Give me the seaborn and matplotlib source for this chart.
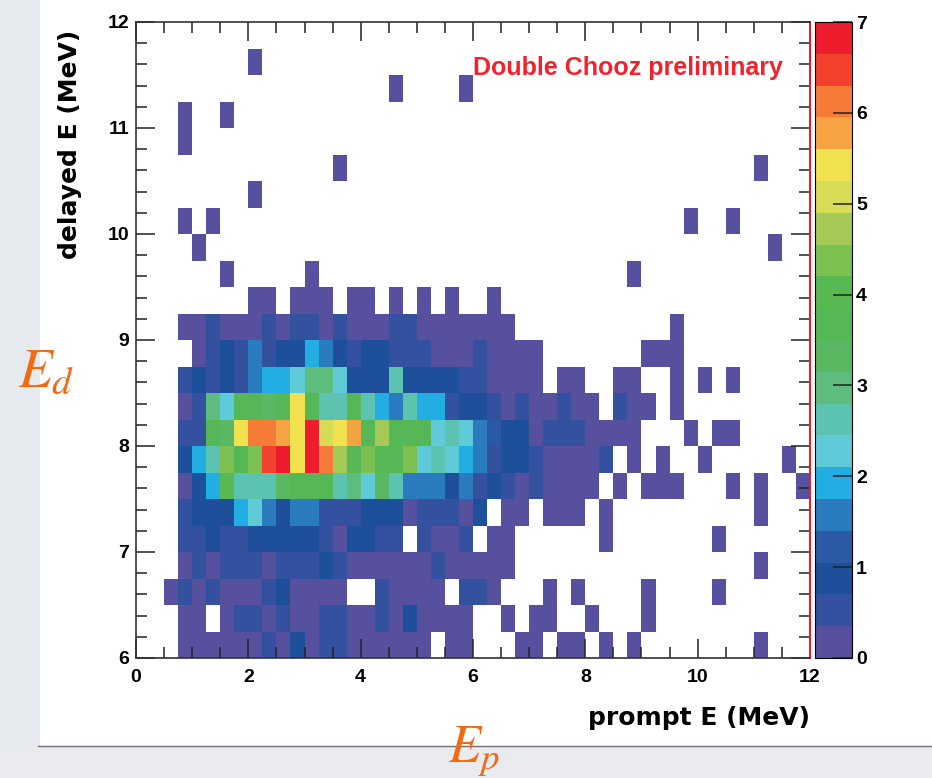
import numpy as np
import matplotlib
matplotlib.use("Agg")
import matplotlib.pyplot as plt
from matplotlib.colors import ListedColormap
from matplotlib.patches import Rectangle
from matplotlib.lines import Line2D
from matplotlib.ticker import MultipleLocator
from matplotlib.font_manager import FontProperties
import seaborn as sns

plt.rcParams["mathtext.fontset"] = "stix"

# Binning of the prompt / delayed energy histogram (MeV)
prompt_edges = np.linspace(0.0, 12.0, 49)
delayed_edges = np.linspace(6.0, 12.0, 25)

# Cell contents: one character per 0.25 MeV prompt bin (groups of 8 bins),
# delayed rows listed from 12 MeV down to 6 MeV.
# '.' = empty, '1'..'9' and 'a'..'k' = colour band 1..20 of the z scale.
rows = [
    "........ ........ ........ ........ ........ ........",  # 11.75-12.00
    "........ 1....... ........ ........ ........ ........",  # 11.50-11.75
    "........ ........ ..1....1 ........ ........ ........",  # 11.25-11.50
    "...1..1. ........ ........ ........ ........ ........",  # 11.00-11.25
    "...1.... ........ ........ ........ ........ ........",  # 10.75-11.00
    "........ ......1. ........ ........ ........ ....1...",  # 10.50-10.75
    "........ 1....... ........ ........ ........ ........",  # 10.25-10.50
    "...1.1.. ........ ........ ........ .......1 ..1.....",  # 10.00-10.25
    "....1... ........ ........ ........ ........ .....1..",  # 9.75-10.00
    "......1. ....1... ........ ........ ...1.... ........",  # 9.50-9.75
    "........ 11.111.1 1.1.1.1. .1...... ........ ........",  # 9.25-9.50
    "...11211 12122121 11221111 111..... ......1. ........",  # 9.00-9.25
    "....1232 52336532 33222111 21111... ....111. ........",  # 8.75-9.00
    "...23232 56679973 33833332 21111.11 ..11..1. 1.1.....",  # 8.50-8.75
    "...1297b babgb88b 86586623 32121121 1.211.1. ........",  # 8.25-8.50
    "...22bag iihgkfgh bebbb787 54331222 1111...1 .11.....",  # 8.00-8.25
    "...368db djkgkieb dbbd7876 52332111 12.1.1.. 1.....1.",  # 7.75-8.00
    "...136c8 88abbb89 7a855535 23212111 1.1.111. ..1.1..1",  # 7.50-7.75
    "...23336 75355222 33312221 3.11.111 .1...... ....1...",  # 7.25-7.50
    "...22322 33333213 322.2112 .11..... .1...... .1......",  # 7.00-7.25
    "...12122 21222321 11111211 111..... ........ ....1...",  # 6.75-7.00
    "..121211 1231111. .21111.2 21...1.1 ....1... .1......",  # 6.50-6.75
    "...11.12 21211221 12131111 ..1.11.. 1...1... ........",  # 6.25-6.50
    "...11111 12131221 11111.11 ...11.11 .1.1.... ....1...",  # 6.00-6.25
]

# 20-step rainbow palette of the z axis (0 .. 7)
palette = [
    "#56509f", "#33519f", "#1d4f9b", "#2b59a4", "#2a7cbf",
    "#22aee2", "#5fcbd9", "#5cc3b1", "#5dbc7e", "#5ab862",
    "#56b756", "#58b852", "#7cc052", "#a4c956", "#d6dc55",
    "#f2e14e", "#f6a343", "#f67b36", "#f4412e", "#ee1d2e",
]
z_max = 7.0
band = z_max / len(palette)
band_codes = "123456789abcdefghijk"

# Turn the table into weighted entries at bin centres
x_centres = 0.5 * (prompt_edges[:-1] + prompt_edges[1:])
y_centres = 0.5 * (delayed_edges[:-1] + delayed_edges[1:])
px, py, w = [], [], []
for r, line in enumerate(rows):
    cells = line.replace(" ", "")
    yc = y_centres[len(rows) - 1 - r]
    for c, ch in enumerate(cells):
        if ch != ".":
            level = band_codes.index(ch) + 1
            px.append(x_centres[c])
            py.append(yc)
            w.append((level - 0.5) * band)

W, H = 932, 778
fig = plt.figure(figsize=(W / 100, H / 100), dpi=100)

# slide backdrop around the canvas
fig.patches.append(Rectangle((0, 0), 40 / W, 1, transform=fig.transFigure,
                             facecolor="#e6e9ed", edgecolor="none", zorder=0))
fig.patches.append(Rectangle((0, 0), 1, 32 / H, transform=fig.transFigure,
                             facecolor="#e9ebee", edgecolor="none", zorder=0))
fig.lines.append(Line2D([38 / W, 1], [1 - 746 / H, 1 - 746 / H],
                        transform=fig.transFigure, color="#6f6f6f", lw=1.0))

ax = fig.add_axes([136 / W, 1 - 658 / H, (810 - 136) / W, (658 - 22) / H])
cax = fig.add_axes([815 / W, 1 - 658 / H, 37 / W, (658 - 22) / H])

cmap = ListedColormap(palette)
sns.histplot(x=px, y=py, weights=w, bins=[prompt_edges, delayed_edges],
             cmap=cmap, vmin=0, vmax=z_max, cbar=True, cbar_ax=cax, ax=ax)

ax.axhline(6.0, color="#e8202a", lw=1.0, zorder=0.5)
ax.set_xlim(0, 12)
ax.set_ylim(6, 12)
ax.set_xlabel("")
ax.set_ylabel("")
ax.xaxis.set_major_locator(MultipleLocator(2))
ax.xaxis.set_minor_locator(MultipleLocator(0.5))
ax.yaxis.set_major_locator(MultipleLocator(1))
ax.yaxis.set_minor_locator(MultipleLocator(0.2))
ax.tick_params(which="both", direction="in", top=True, right=True,
               color="#222222", width=1.1)
ax.tick_params(which="major", length=14)
ax.tick_params(which="minor", length=8)
ax.tick_params(axis="x", which="major", pad=8)
ax.tick_params(axis="y", which="major", pad=5)
for spine in ax.spines.values():
    spine.set_color("#333333")
    spine.set_linewidth(1.2)
ax.spines["right"].set_color("#e8202a")
ax.spines["right"].set_linewidth(1.5)

tick_font = FontProperties(family="Liberation Sans", weight="bold", size=14)
for lab in ax.get_xticklabels() + ax.get_yticklabels():
    lab.set_fontproperties(tick_font)

# colour scale
cax.set_ylim(0, z_max)
cax.yaxis.set_major_locator(MultipleLocator(1))
cax.tick_params(axis="y", direction="in", length=14, width=1.1,
                color="#222222", pad=3, right=True, left=False)
for lab in cax.get_yticklabels():
    lab.set_fontproperties(tick_font)

label_font = dict(family="DejaVu Sans", weight="bold", size=18)
fig.text(810 / W, 1 - 718 / H, "prompt E (MeV)", ha="right", va="center",
         **label_font)
fig.text(70 / W, 1 - 30 / H, "delayed E (MeV)", ha="center", va="top",
         rotation=90, **label_font)

fig.text(473 / W, 1 - 68 / H, "Double Chooz preliminary", ha="left",
         va="center", color="#f2222c", family="Liberation Sans",
         weight="bold", size=18)

fig.text(18 / W, 1 - 386 / H, r"$E_d$", color="#f36a12", size=40,
         ha="left", va="baseline")
fig.text(448 / W, 1 - 762 / H, r"$E_p$", color="#f36a12", size=38,
         ha="left", va="baseline")

fig.savefig("out.png", dpi=100)
